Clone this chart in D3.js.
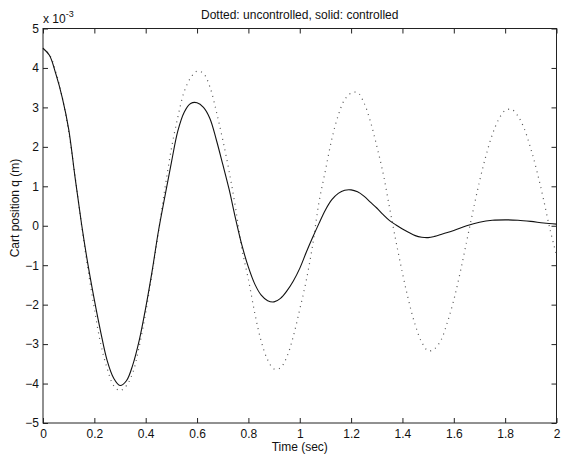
<html>
<head>
    <title>Cart position</title>
    <meta charset="UTF-8" />
    <script src="https://d3js.org/d3.v7.min.js"></script>
    <style>
        body { margin: 0; background: white; }
        text { font-family: "Liberation Sans", Arial, sans-serif; fill: #111; }
        .axis path { stroke: none; }
        .axis line { stroke: #222; }
        .axis text { font-size: 12px; }
    </style>
</head>
<body>
<svg id="svg1" width="561" height="457"></svg>
<script>

    // time axis (sec)
    const solidTime = [0, 0.025, 0.05, 0.075, 0.1, 0.125, 0.15, 0.175, 0.2, 0.225, 0.25, 0.275, 0.3, 0.325, 0.35, 0.375,
        0.4, 0.425, 0.45, 0.475, 0.5, 0.525, 0.55, 0.575, 0.6, 0.625, 0.65, 0.675, 0.7, 0.725, 0.75, 0.775,
        0.8, 0.825, 0.85, 0.875, 0.9, 0.925, 0.95, 0.975, 1.0, 1.025, 1.05, 1.075, 1.1, 1.125, 1.15, 1.175,
        1.2, 1.225, 1.25, 1.275, 1.3, 1.325, 1.35, 1.375, 1.4, 1.425, 1.45, 1.475, 1.5, 1.525, 1.55, 1.6,
        1.65, 1.7, 1.75, 1.8, 1.85, 1.9, 1.95, 2.0];
    // controlled (x 1e-3 m)
    const solidValues = [4.5, 4.32, 3.85, 3.25, 2.45, 1.22, 0.05, -0.98, -1.88, -2.7, -3.42, -3.86, -4.05, -3.93, -3.52, -2.9,
        -2.08, -1.15, -0.12, 0.75, 1.6, 2.4, 2.88, 3.1, 3.12, 3.0, 2.72, 2.18, 1.56, 0.92, 0.18, -0.5,
        -1.05, -1.48, -1.76, -1.9, -1.93, -1.84, -1.65, -1.4, -1.08, -0.68, -0.3, 0.06, 0.4, 0.66, 0.82, 0.9,
        0.91, 0.86, 0.75, 0.6, 0.45, 0.28, 0.13, 0.02, -0.08, -0.17, -0.25, -0.29, -0.3, -0.27, -0.22, -0.12,
        0.0, 0.09, 0.14, 0.15, 0.14, 0.11, 0.07, 0.04];

    const dottedTime = [0, 0.025, 0.05, 0.075, 0.1, 0.125, 0.15, 0.175, 0.2, 0.225, 0.25, 0.275, 0.3, 0.325, 0.35, 0.375,
        0.4, 0.425, 0.45, 0.475, 0.5, 0.525, 0.55, 0.575, 0.6, 0.625, 0.65, 0.675, 0.7, 0.725, 0.75, 0.775,
        0.8, 0.825, 0.85, 0.875, 0.9, 0.925, 0.95, 0.975, 1.0, 1.025, 1.05, 1.075, 1.1, 1.125, 1.15, 1.175,
        1.2, 1.225, 1.25, 1.275, 1.3, 1.325, 1.35, 1.375, 1.4, 1.425, 1.45, 1.475, 1.5, 1.525, 1.55, 1.575,
        1.6, 1.625, 1.65, 1.675, 1.7, 1.725, 1.75, 1.775, 1.8, 1.825, 1.85, 1.875, 1.9, 1.925, 1.95, 1.975, 2.0];
    // uncontrolled (x 1e-3 m)
    const dottedValues = [4.5, 4.34, 3.9, 3.25, 2.38, 1.25, 0.02, -1.1, -2.1, -3.0, -3.62, -4.05, -4.18, -4.05, -3.72, -3.05,
        -2.2, -1.2, -0.15, 0.95, 1.95, 2.75, 3.4, 3.75, 3.92, 3.86, 3.52, 2.9, 2.18, 1.38, 0.45, -0.6,
        -1.36, -2.22, -2.93, -3.4, -3.63, -3.6, -3.32, -2.8, -2.12, -1.4, -0.5, 0.6, 1.4, 2.2, 2.8, 3.2,
        3.36, 3.38, 3.12, 2.65, 2.02, 1.32, 0.45, -0.4, -1.2, -1.92, -2.52, -2.95, -3.17, -3.12, -2.9, -2.45,
        -1.88, -1.18, -0.4, 0.38, 1.12, 1.77, 2.31, 2.7, 2.92, 2.95, 2.78, 2.45, 1.95, 1.35, 0.65, -0.1, -0.75];

    const xTicks = [0, 0.2, 0.4, 0.6, 0.8, 1, 1.2, 1.4, 1.6, 1.8, 2];
    const yTicks = [-5, -4, -3, -2, -1, 0, 1, 2, 3, 4, 5];

    const titleText = "Dotted: uncontrolled, solid: controlled";
    const xLabel = "Time (sec)";
    const yLabel = "Cart position q (m)";

    // setting up svg
    const svg1 = d3.select("svg#svg1");
    const margin = {top: 28.5, right: 4.5, bottom: 34, left: 43};
    const width = svg1.attr("width");
    const height = svg1.attr("height");
    const chartWidth = width - margin.left - margin.right;
    const chartHeight = height - margin.top - margin.bottom;

    const chartArea = svg1.append("g")
        .attr("transform", "translate(" + margin.left + "," + margin.top + ")");

    const xScale = d3.scaleLinear().domain([0, 2]).range([0, chartWidth]);
    const yScale = d3.scaleLinear().domain([-5, 5]).range([chartHeight, 0]);

    // axes with ticks pointing inward on all four sides
    chartArea.append("g").attr("class", "axis")
        .attr("transform", "translate(0," + chartHeight + ")")
        .call(d3.axisBottom(xScale).tickValues(xTicks).tickSize(-5).tickSizeOuter(0).tickPadding(6)
            .tickFormat(d3.format("")));
    chartArea.append("g").attr("class", "axis")
        .call(d3.axisTop(xScale).tickValues(xTicks).tickSize(-5).tickSizeOuter(0).tickFormat(""));
    chartArea.append("g").attr("class", "axis")
        .call(d3.axisLeft(yScale).tickValues(yTicks).tickSize(-5).tickSizeOuter(0).tickPadding(4)
            .tickFormat(d3.format("")));
    chartArea.append("g").attr("class", "axis")
        .attr("transform", "translate(" + chartWidth + ",0)")
        .call(d3.axisRight(yScale).tickValues(yTicks).tickSize(-5).tickSizeOuter(0).tickFormat(""));

    chartArea.append("rect")
        .attr("width", chartWidth).attr("height", chartHeight)
        .style("fill", "none").style("stroke", "#222").style("stroke-width", 1);

    const lineGen = d3.line()
        .x(d => xScale(d[0]))
        .y(d => yScale(d[1]))
        .curve(d3.curveCatmullRom.alpha(0.5));

    chartArea.append("path")
        .attr("d", lineGen(dottedTime.map((t, i) => [t, dottedValues[i]])))
        .style("fill", "none").style("stroke", "#555")
        .style("stroke-width", 1.2).style("stroke-dasharray", "1,4.5");

    chartArea.append("path")
        .attr("d", lineGen(solidTime.map((t, i) => [t, solidValues[i]])))
        .style("fill", "none").style("stroke", "#111").style("stroke-width", 1.1);

    // labels
    svg1.append("text")
        .attr("x", margin.left + chartWidth / 2).attr("y", 19)
        .attr("text-anchor", "middle").style("font-size", "12px")
        .text(titleText);

    svg1.append("text")
        .attr("x", margin.left + chartWidth / 2).attr("y", 451)
        .attr("text-anchor", "middle").style("font-size", "12px")
        .text(xLabel);

    svg1.append("text")
        .attr("transform", "translate(19,208) rotate(-90)")
        .attr("text-anchor", "middle").style("font-size", "12px")
        .text(yLabel);

    const expo = svg1.append("text")
        .attr("x", margin.left).attr("y", 23)
        .style("font-size", "12px");
    expo.append("tspan").text("x 10");
    expo.append("tspan").attr("dy", -6).style("font-size", "9px").text("-3");

</script>
</body>
</html>
